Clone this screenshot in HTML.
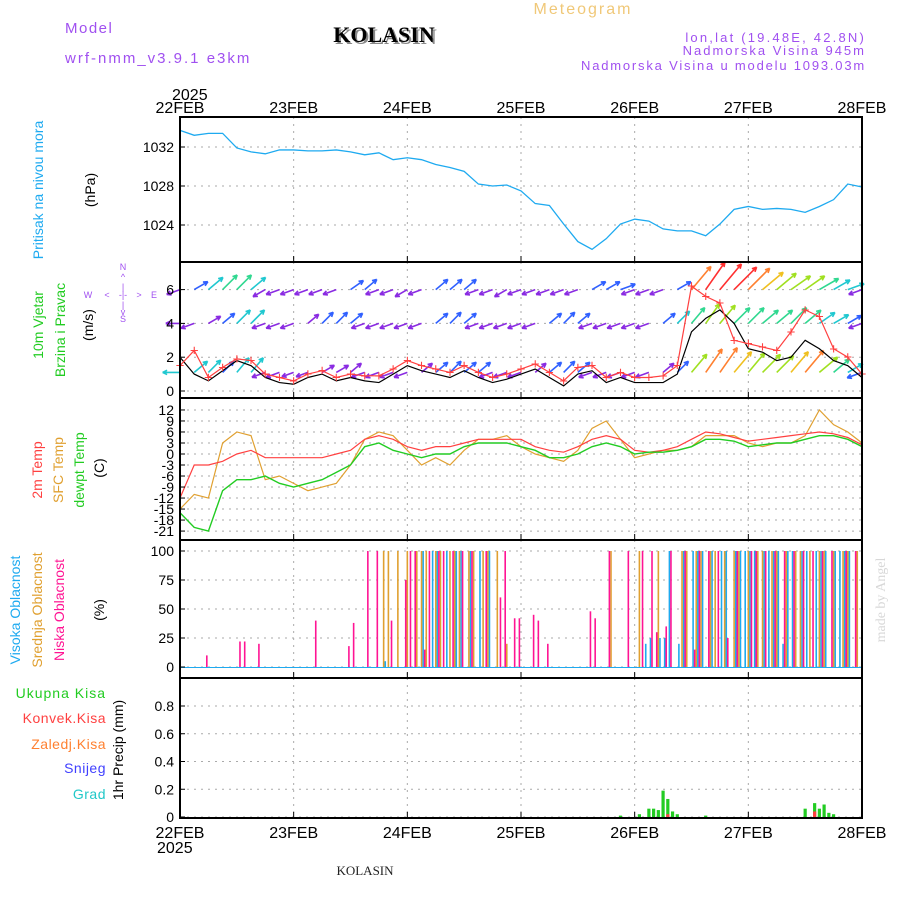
<!DOCTYPE html>
<html><head><meta charset="utf-8"><style>
html,body{margin:0;padding:0;background:#fff;}
svg{display:block;font-family:"Liberation Sans",sans-serif;}
</style></head><body>
<svg id="c" width="900" height="900" viewBox="0 0 900 900" xmlns="http://www.w3.org/2000/svg">
<g>
<text x="65" y="33" font-size="15" fill="#a050f0" letter-spacing="1.5">Model</text>
<text x="65" y="63" font-size="15" fill="#a050f0" letter-spacing="2">wrf-nmm_v3.9.1 e3km</text>
<text x="386" y="44" font-size="22" font-weight="bold" font-family="Liberation Serif,serif" fill="#888" text-anchor="middle">KOLASIN</text>
<text x="384" y="42" font-size="22" font-weight="bold" font-family="Liberation Serif,serif" fill="#000" text-anchor="middle">KOLASIN</text>
<text x="583" y="14" font-size="16" fill="#f0c878" text-anchor="middle" letter-spacing="2">Meteogram</text>
<text x="866" y="42" font-size="13" fill="#a050f0" text-anchor="end" letter-spacing="2.2">lon,lat (19.48E, 42.8N)</text>
<text x="866" y="55" font-size="13" fill="#a050f0" text-anchor="end" letter-spacing="2">Nadmorska Visina 945m</text>
<text x="866" y="70" font-size="13" fill="#a050f0" text-anchor="end" letter-spacing="1.8">Nadmorska Visina u modelu 1093.03m</text>
<text x="172" y="100" font-size="16" fill="#000">2025</text>
<text x="157" y="853" font-size="16" fill="#000">2025</text>
<text x="365" y="875" font-size="13" font-family="Liberation Serif,serif" fill="#222" text-anchor="middle">KOLASIN</text>
<text x="885" y="600" font-size="14" font-family="Liberation Serif,serif" fill="#d8d8d8" text-anchor="middle" transform="rotate(-90 885 600)">made by Angel</text>
</g>
<g>
<text transform="translate(43,190) rotate(-90)" font-size="14" fill="#1eaaf0" text-anchor="middle">Pritisak na nivou mora</text>
<text transform="translate(95,190) rotate(-90)" font-size="14" fill="#000" text-anchor="middle">(hPa)</text>
<text transform="translate(43,325) rotate(-90)" font-size="14" fill="#22cc22" text-anchor="middle">10m Vjetar</text>
<text transform="translate(65,330) rotate(-90)" font-size="14" fill="#22cc22" text-anchor="middle">Brzina i Pravac</text>
<text transform="translate(93,325) rotate(-90)" font-size="14" fill="#000" text-anchor="middle">(m/s)</text>
<g fill="#a050f0" font-size="9" text-anchor="middle">
<text x="123" y="270">N</text><text x="123" y="280">^</text><text x="123" y="290">|</text>
<text x="88" y="298">W</text><text x="107" y="298">&lt;</text><text x="123" y="298">-|-</text><text x="139" y="298">&gt;</text><text x="154" y="298">E</text>
<text x="123" y="308">|</text><text x="123" y="315">v</text><text x="123" y="322">S</text>
</g>
<text transform="translate(42,470) rotate(-90)" font-size="14" fill="#ff4040" text-anchor="middle">2m Temp</text>
<text transform="translate(63,470) rotate(-90)" font-size="14" fill="#e0a030" text-anchor="middle">SFC Temp</text>
<text transform="translate(84,470) rotate(-90)" font-size="14" fill="#22cc22" text-anchor="middle">dewpt Temp</text>
<text transform="translate(104,468) rotate(-90)" font-size="14" fill="#000" text-anchor="middle">(C)</text>
<text transform="translate(20,610) rotate(-90)" font-size="14" fill="#1eaaf0" text-anchor="middle">Visoka Oblacnost</text>
<text transform="translate(42,610) rotate(-90)" font-size="14" fill="#e0a030" text-anchor="middle">Srednja Oblacnost</text>
<text transform="translate(64,610) rotate(-90)" font-size="14" fill="#ff1493" text-anchor="middle">Niska Oblacnost</text>
<text transform="translate(104,610) rotate(-90)" font-size="14" fill="#000" text-anchor="middle">(%)</text>
<text x="106" y="698" font-size="14" fill="#22cc22" text-anchor="end" letter-spacing="1">Ukupna Kisa</text>
<text x="106" y="723" font-size="14" fill="#ff4040" text-anchor="end" letter-spacing="0.5">Konvek.Kisa</text>
<text x="106" y="749" font-size="14" fill="#ff8030" text-anchor="end" letter-spacing="0.5">Zaledj.Kisa</text>
<text x="106" y="773" font-size="14" fill="#4040ff" text-anchor="end" letter-spacing="0.5">Snijeg</text>
<text x="106" y="799" font-size="14" fill="#20c8c8" text-anchor="end" letter-spacing="0.5">Grad</text>
<text transform="translate(123,750) rotate(-90)" font-size="14" fill="#000" text-anchor="middle">1hr Precip (mm)</text>
</g>
<g id="grid"></g>
<g id="marks"></g>
<g id="axes"></g>
</svg>
<script>
// ---- data ----
const dayLabels=["22FEB","23FEB","24FEB","25FEB","26FEB","27FEB","28FEB"];
// 3-hourly series (49 points, 22FEB 00 .. 28FEB 00)
const pressure=[1033.7,1033.2,1033.4,1033.4,1031.9,1031.5,1031.3,1031.7,
1031.7,1031.6,1031.6,1031.7,1031.5,1031.2,1031.4,1030.7,
1030.9,1030.7,1030.2,1029.9,1029.5,1028.2,1028.0,1028.1,
1027.5,1026.2,1026.0,1024.1,1022.3,1021.5,1022.6,1024.1,
1024.6,1024.4,1023.6,1023.4,1023.4,1022.9,1024.1,1025.6,
1025.9,1025.6,1025.7,1025.6,1025.3,1025.9,1026.6,1028.2,1027.9];
const windSpeed=[2.0,1.0,0.6,1.2,1.8,1.5,0.8,0.5, 0.4,0.8,1.0,0.6,0.8,0.6,0.5,1.0, 1.5,1.2,1.0,0.8,1.2,0.8,0.5,0.7, 1.0,1.3,0.8,0.3,1.0,1.2,0.5,0.8, 0.5,0.5,0.5,1.0,3.5,4.3,4.8,4.0, 2.5,2.3,1.8,2.0,3.0,2.5,1.8,1.5,0.8];
const gust=[1.5,2.4,0.8,1.4,1.9,1.8,1.0,0.8, 0.6,1.0,1.2,0.8,1.0,0.9,0.9,1.3, 1.8,1.5,1.3,1.1,1.5,1.1,0.8,1.0, 1.3,1.6,1.1,0.6,1.4,1.5,0.8,1.1, 0.8,0.8,0.9,1.5,6.2,5.6,5.2,3.0, 2.8,2.6,2.4,3.5,4.8,4.4,2.5,2.0,1.0];
const row6Speed=[2,3,5,6,6,5,2,2, 2,2,2,2,3,3,2,2, 2,2,3,3,3,2,2,2, 2,2,2,2,2,3,3,3, 2,2,2,3,12,14,14,13, 12,10,9,8,8,7,5,4,2];
const row6Dir=[200,30,40,45,45,40,210,200, 200,200,200,200,35,40,200,200, 210,200,40,40,40,200,200,210, 200,200,200,200,200,30,30,20, 200,200,200,30,50,55,50,45, 45,40,40,35,35,30,30,20,200];
const row4Speed=[2,2,2,3,5,5,2,2, 2,2,3,3,3,2,2,2, 2,2,3,3,3,2,2,2, 2,2,3,3,3,2,2,2, 2,2,3,4,6,8,8,7, 7,6,6,7,6,5,4,3,2];
const row4Dir=[180,200,30,40,45,45,200,200, 200,40,45,45,40,200,200,200, 200,200,40,45,40,200,200,200, 200,200,40,45,40,200,200,200, 200,200,40,45,50,55,50,45, 45,40,40,45,40,35,30,30,200];
const row1Speed=[4,4,4,3,5,5,2,2, 1,1,2,2,2,2,2,2, 2,2,3,3,3,3,2,2, 2,2,3,3,3,2,2,2, 2,2,2,3,8,11,12,10, 9,9,8,10,11,8,6,4,3];
const row1Dir=[180,40,45,45,50,50,200,200, 200,200,30,30,40,200,200,200, 200,40,40,45,40,40,200,200, 200,40,40,45,40,200,200,200, 200,200,40,45,50,55,55,50, 50,45,45,50,50,40,40,30,200];
const temp2m=[-12,-3,-3,-2,0,1,-1,-1, -1,-1,-1,0,1,4,5,4, 2,1,2,2,3,4,4,4, 4,2,1,0.5,2,4,5,4, 1,0.5,1,2,4,6,5.5,4.5, 3.5,4,4.5,5,5.5,6,5.5,4.5,2.5];
const tempSfc=[-15,-11,-12,3,6,5,-7,-6, -8,-10,-9,-8,-3,4,6,5, 1,-3,-1,-3,1,4,4,5, 2,0,-1,-2,1,7,9,4, -1,0,1,1,2,5,5,5, 3,2,3,3,5,12,8,6,3];
const dewpt=[-16,-20,-21,-10,-7,-7,-6,-8, -9,-8,-7,-5,-3,2,3,1, 0,-1,0,0,2,3,3,3, 2,1,-1,-1,0,2,3,2, 0,0.5,0.5,1,2,4,4,3.5, 2,2.5,3,3,4,5,5,4,2];
// hourly cloud cover (%) 144 values
const cloudLow=[0,0,0,0,0,0,10,0,0,0,0,0,0,22,22,0,0,20,0,0,0,0,0,0,
0,0,0,0,0,40,0,0,0,0,0,0,18,38,0,0,100,0,100,0,0,40,0,0,
75,100,100,0,15,100,0,100,100,0,100,0,100,0,100,0,0,100,0,0,60,100,0,42,
42,0,0,45,40,0,20,0,0,0,0,0,0,0,0,48,42,0,0,100,0,0,0,100,
0,0,100,0,100,30,0,35,100,0,0,100,0,15,100,0,100,0,100,0,25,0,100,0,
0,100,100,0,100,0,100,0,100,0,100,0,100,0,100,0,100,0,100,0,0,100,0,100];
const cloudMid=[0,0,0,0,0,0,0,0,0,0,0,0,0,0,0,0,0,0,0,0,0,0,0,0,
0,0,0,0,0,0,0,0,0,0,0,0,0,0,0,0,0,0,0,100,100,0,100,0,
100,0,100,100,100,0,100,100,0,100,100,100,0,100,100,0,100,100,0,100,0,20,0,0,
0,0,0,0,0,0,0,0,0,0,0,0,0,0,0,0,0,0,0,100,0,0,0,0,
0,100,0,0,0,100,0,0,0,0,100,100,0,100,100,0,100,100,0,100,0,100,100,0,
100,0,100,100,0,100,100,0,100,0,100,100,0,100,0,100,100,0,100,0,100,100,0,100];
const cloudHigh=[0,0,0,0,0,0,0,0,0,0,0,0,0,0,0,0,0,0,0,0,0,0,0,0,
0,0,0,0,0,0,0,0,0,0,0,0,0,0,0,0,0,0,0,5,0,0,0,0,
0,0,0,100,0,100,100,0,100,0,100,100,0,100,0,100,0,100,0,0,0,0,0,0,
0,0,0,0,0,0,0,0,0,0,0,0,0,0,0,0,0,0,0,0,0,0,0,0,
0,0,20,25,0,25,25,100,0,20,100,0,100,100,100,0,100,0,100,100,0,100,100,100,
100,100,0,100,100,100,100,20,100,100,0,100,100,0,100,100,100,0,100,100,100,100,0,0];
const precipHours=[93,97,99,100,101,102,103,104,105,111,132,134,135,136,137,138];
const precipTotal=[0.01,0.02,0.06,0.06,0.05,0.19,0.13,0.04,0.02,0.01,0.06,0.10,0.06,0.09,0.03,0.02];
const precipConv=[0,0,0,0,0,0,0.02,0,0,0,0,0.04,0,0,0,0];
const pressTicks=[1024,1028,1032];
const windTicks=[0,2,4,6];
const tempTicks=[12,9,6,3,0,-3,-6,-9,-12,-15,-18,-21];
const cloudTicks=[0,25,50,75,100];
const precipTicks=[0,0.2,0.4,0.6,0.8];

// ---- layout ----
const X0=180,X1=862;
const panels={p:[117,262],w:[262,398],t:[398,540],c:[540,678],r:[678,818]};
const xH=h=>X0+(X1-X0)*h/144;
const x3=i=>xH(i*3);
const yP=v=>147+(1032-v)*9.75;
const yW=v=>391-v*16.9;
const yT=v=>454-v*3.67;
const yC=v=>667-v*1.16;
const yR=v=>817-v*138.75;
const NS="http://www.w3.org/2000/svg";
function mk(tag,attrs,parent){const e=document.createElementNS(NS,tag);for(const k in attrs)e.setAttribute(k,attrs[k]);parent.appendChild(e);return e;}
const grid=document.getElementById('grid'),marks=document.getElementById('marks'),axes=document.getElementById('axes');

for(const k in panels){const [a,b]=panels[k];
 for(let d=1;d<6;d++){const xx=X0+(X1-X0)*d/6;const l=mk('line',{x1:xx,x2:xx,y1:a,y2:b,stroke:'#aaa','stroke-dasharray':'2,5'},grid);
 
 }}
function hgrid(ticks,fy,fmt,panel){ticks.forEach(t=>{const y=fy(t);
 const l=mk('line',{x1:X0,x2:X1,y1:y,y2:y,stroke:'#aaa','stroke-dasharray':'2,5'},grid);
 
 
 const tx=mk('text',{x:X0-6,y:y+5,'font-size':14,'text-anchor':'end',fill:'#000'},axes);tx.textContent=fmt(t);
 
 
 const tk=mk('line',{x1:X0,x2:X0+5,y1:y,y2:y,stroke:'#000'},axes);
 
 });}
hgrid(pressTicks,yP,String,'pressure');hgrid(windTicks,yW,String,'wind');hgrid(tempTicks,yT,String,'temp');
hgrid(cloudTicks,yC,String,'cloud');hgrid(precipTicks,yR,t=>t===0?'0':t.toFixed(1),'precip');

function poly(vals,fy,color,name,w){const pts=vals.map((v,i)=>x3(i)+','+fy(v)).join(' ');
 const p=mk('polyline',{points:pts,fill:'none',stroke:color,'stroke-width':w||1.2},marks);
 
 return p;}
poly(pressure,yP,'#1eaaf0','pressure-line',1.3);
function spdColor(s){if(s<3)return '#8a2be2';if(s<4)return '#3060ff';if(s<6)return '#20c8d0';if(s<8)return '#30d890';if(s<10)return '#a0e020';if(s<11)return '#f0c020';if(s<13)return '#ff8030';return '#ff3030';}
function arrowRow(sp,dir,base,name){const g=mk('g',{},marks);
 
 
 sp.forEach((s,i)=>{const x=x3(i),y=yW(base);const L=11+s*1.6;const a=dir[i]*Math.PI/180;
  const x2=x+L*Math.cos(a),y2=y-L*Math.sin(a);const col=spdColor(s);
  const h1=a+Math.PI-0.45,h2=a+Math.PI+0.45;
  const p=mk('path',{d:`M${x},${y}L${x2},${y2}M${x2},${y2}L${x2+5*Math.cos(h1)},${y2-5*Math.sin(h1)}M${x2},${y2}L${x2+5*Math.cos(h2)},${y2-5*Math.sin(h2)}`,stroke:col,'stroke-width':1.6,fill:'none'},g);
  
  });}
arrowRow(row6Speed,row6Dir,6,'wind-arrows-row-6');
arrowRow(row4Speed,row4Dir,4,'wind-arrows-row-4');
arrowRow(row1Speed,row1Dir,1.1,'wind-arrows-row-1');
poly(windSpeed,yW,'#000','wind-speed-line',1.2);
poly(gust,yW,'#ff4040','wind-gust-line',1.2);
gust.forEach((v,i)=>{const t=mk('text',{x:x3(i),y:yW(v)+5,'font-size':15,'text-anchor':'middle',fill:'#ff4040'},marks);t.textContent='+';
 
 });
poly(tempSfc,yT,'#e0a030','sfc-temp-line');
poly(temp2m,yT,'#ff4040','temp-2m-line');
poly(dewpt,yT,'#22cc22','dewpt-line',1.4);
function cloudBars(vals,col,off,name){const g=mk('g',{},marks);
 
 
 vals.forEach((v,h)=>{if(v<=0)return;const x=xH(h)+off;
  const l=mk('line',{x1:x,x2:x,y1:yC(0),y2:yC(v),stroke:col,'stroke-width':1.6},g);
  
  });}
const base=mk('line',{x1:X0,x2:X1,y1:yC(0)+0.5,y2:yC(0)+0.5,stroke:'#1eaaf0','stroke-width':1},marks);


cloudBars(cloudHigh,'#1eaaf0',1.6,'high-cloud-bars');
cloudBars(cloudMid,'#e0a030',0,'mid-cloud-bars');
cloudBars(cloudLow,'#ff1493',-1.6,'low-cloud-bars');
precipHours.forEach((h,i)=>{const x=xH(h);
 const r=mk('rect',{x:x-1.6,y:yR(precipTotal[i]),width:3.2,height:yR(0)-yR(precipTotal[i]),fill:'#22cc22'},marks);
 
 
 if(precipConv[i]>0){const c=mk('rect',{x:x-1.6,y:yR(precipConv[i]),width:3.2,height:yR(0)-yR(precipConv[i]),fill:'#ff4040'},marks);
 
 }});
for(const k in panels){const [a,b]=panels[k];const r=mk('rect',{x:X0,y:a,width:X1-X0,height:b-a,fill:'none',stroke:'#000','stroke-width':2},axes);
 
 
 for(let d=0;d<=6;d++){const xx=X0+(X1-X0)*d/6;const t=mk('line',{x1:xx,x2:xx,y1:b-6,y2:b,stroke:'#000'},axes);
 
 }}
dayLabels.forEach((d,i)=>{const xx=X0+(X1-X0)*i/6;
 const t1=mk('text',{x:xx,y:113,'font-size':16,'text-anchor':'middle',fill:'#000'},axes);t1.textContent=d;
 
 
 const t2=mk('text',{x:xx,y:838,'font-size':16,'text-anchor':'middle',fill:'#000'},axes);t2.textContent=d;
 
 });
</script>
</body></html>
